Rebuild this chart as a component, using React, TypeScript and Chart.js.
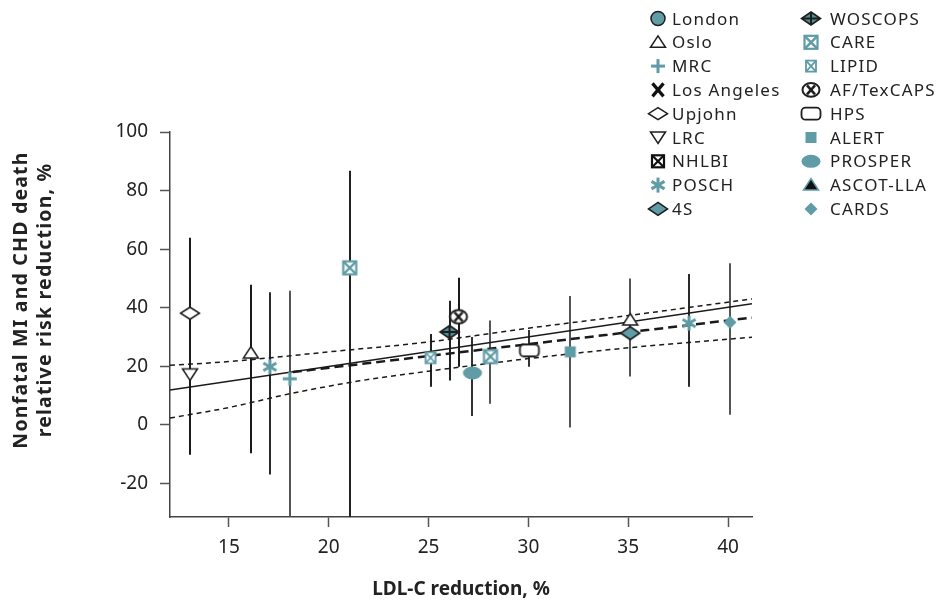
import { useEffect, useRef } from 'react';
import { Chart, registerables } from 'chart.js';

Chart.register(...registerables);

// ---------------- data ----------------
const studyNames = [
  'London', 'Oslo', 'MRC', 'Los Angeles', 'Upjohn', 'LRC', 'NHLBI', 'POSCH', '4S',
  'WOSCOPS', 'CARE', 'LIPID', 'AF/TexCAPS', 'HPS', 'ALERT', 'PROSPER', 'ASCOT-LLA', 'CARDS',
];
// LDL-C reduction, % (x)
const studyLdlReduction: number[][] = [
  [], [16.1], [18.05], [], [13.05], [13.05], [21.05], [17.05, 38.05], [35.1],
  [26.05], [28.1], [25.1], [26.5], [30.05], [32.1], [27.2], [35.1], [40.1],
];
// relative risk reduction, % (y)
const studyRiskReduction: number[][] = [
  [], [24.5], [15.7], [], [38.1], [17.2], [53.6], [19.8, 34.7], [31.3],
  [31.7], [23.3], [22.9], [36.9], [25.4], [24.9], [17.7], [35.8], [35.0],
];
// confidence interval low / high (null = no own bar)
const studyCiLow: (number | null)[][] = [
  [], [-9.7], [-40], [], [-10.2], [null], [-40], [-17, 13], [16.5],
  [15.1], [7.2], [13], [19.8], [19.8], [-0.9], [3], [null], [3.4],
];
const studyCiHigh: (number | null)[][] = [
  [], [47.8], [45.8], [], [63.9], [null], [86.8], [45.3, 51.5], [50],
  [42.4], [35.6], [31], [50.2], [32.4], [44], [30], [null], [55.2],
];

// regression line and confidence band
const fitX = [12.05, 41.2];
const fitY = [11.9, 41.3];
const trendX = [18.2, 41.2];
const trendY = [18.0, 36.6];
const bandUpperX = [12.05, 15, 20, 25, 30, 35, 41.2];
const bandUpperY = [20.3, 21.6, 24.9, 28.3, 33.0, 37.3, 43.0];
const bandLowerX = [12.05, 15, 18.2, 21.55, 25, 30, 35, 41.2];
const bandLowerY = [2.3, 5.9, 10.8, 15.0, 18.3, 22.6, 26.3, 29.9];

const xTickValues = [15, 20, 25, 30, 35, 40];
const yTickValues = [-20, 0, 20, 40, 60, 80, 100];
const xTitle = 'LDL-C reduction, %';
const yTitleLines = ['Nonfatal MI and CHD death', 'relative risk reduction, %'];

// ---------------- styles ----------------
const TEAL = '#5f9ca5';
const DARK = '#1e1e1e';
const FONT = '"Noto Sans", "DejaVu Sans", sans-serif';

const plotMarker: Record<string, string> = {
  London: 'circle', Oslo: 'triOpen', MRC: 'plus', 'Los Angeles': 'cross', Upjohn: 'diamondOpen',
  LRC: 'triDown', NHLBI: 'boxXTeal', POSCH: 'asterisk', '4S': 'diamondTeal', WOSCOPS: 'diamondCross',
  CARE: 'boxXTeal', LIPID: 'boxXSmall', 'AF/TexCAPS': 'circleX', HPS: 'roundRect', ALERT: 'square',
  PROSPER: 'ellipse', 'ASCOT-LLA': 'triOpen', CARDS: 'diamondSmall',
};
const legendMarker: Record<string, string> = {
  ...plotMarker, NHLBI: 'boxXDark', 'ASCOT-LLA': 'triFilled',
};
const barColor: Record<string, string> = {
  Oslo: '#1a1a1a', MRC: '#555', Upjohn: '#1a1a1a', NHLBI: '#222', POSCH: '#2a2a2a', '4S': '#555',
  WOSCOPS: '#222', CARE: '#555', LIPID: '#222', 'AF/TexCAPS': '#1a1a1a', HPS: '#333', ALERT: '#555',
  PROSPER: '#333', CARDS: '#555',
};

function poly(g: CanvasRenderingContext2D, pts: number[][]) {
  g.beginPath();
  g.moveTo(pts[0][0], pts[0][1]);
  for (let i = 1; i < pts.length; i++) g.lineTo(pts[i][0], pts[i][1]);
  g.closePath();
}
function seg(g: CanvasRenderingContext2D, a: number, b: number, c: number, d: number) {
  g.beginPath();
  g.moveTo(a, b);
  g.lineTo(c, d);
  g.stroke();
}

function drawMarker(g: CanvasRenderingContext2D, kind: string, cx: number, cy: number) {
  g.save();
  g.lineJoin = 'miter';
  g.lineCap = 'butt';
  switch (kind) {
    case 'circle':
      g.beginPath(); g.arc(cx, cy, 7, 0, Math.PI * 2);
      g.fillStyle = TEAL; g.fill(); g.lineWidth = 1.5; g.strokeStyle = DARK; g.stroke();
      break;
    case 'triOpen':
      poly(g, [[cx, cy - 6.5], [cx + 7.5, cy + 5], [cx - 7.5, cy + 5]]);
      g.fillStyle = '#fff'; g.fill(); g.lineWidth = 1.5; g.strokeStyle = DARK; g.stroke();
      break;
    case 'triFilled':
      poly(g, [[cx, cy - 6.5], [cx + 7.5, cy + 5], [cx - 7.5, cy + 5]]);
      g.fillStyle = '#111'; g.fill(); g.lineWidth = 1.5; g.strokeStyle = TEAL; g.stroke();
      break;
    case 'triDown':
      poly(g, [[cx, cy + 6], [cx + 7.5, cy - 5.5], [cx - 7.5, cy - 5.5]]);
      g.fillStyle = '#fff'; g.fill(); g.lineWidth = 1.5; g.strokeStyle = DARK; g.stroke();
      break;
    case 'plus':
      g.strokeStyle = TEAL; g.lineWidth = 3;
      seg(g, cx - 7, cy, cx + 7, cy); seg(g, cx, cy - 7, cx, cy + 7);
      break;
    case 'cross':
      g.strokeStyle = '#111'; g.lineWidth = 3.2;
      seg(g, cx - 5.5, cy - 6.5, cx + 5.5, cy + 6.5); seg(g, cx + 5.5, cy - 6.5, cx - 5.5, cy + 6.5);
      break;
    case 'diamondOpen':
      poly(g, [[cx, cy - 6], [cx + 9.5, cy], [cx, cy + 6], [cx - 9.5, cy]]);
      g.fillStyle = '#fff'; g.fill(); g.lineWidth = 1.5; g.strokeStyle = DARK; g.stroke();
      break;
    case 'boxXDark':
      g.fillStyle = '#fff'; g.fillRect(cx - 6, cy - 6, 12, 12);
      g.strokeStyle = '#111'; g.lineWidth = 2.2; g.strokeRect(cx - 6, cy - 6, 12, 12);
      seg(g, cx - 6, cy - 6, cx + 6, cy + 6); seg(g, cx + 6, cy - 6, cx - 6, cy + 6);
      break;
    case 'boxXTeal':
      g.fillStyle = '#fff'; g.fillRect(cx - 6.5, cy - 6.5, 13, 13);
      g.strokeStyle = TEAL; g.lineWidth = 2.2; g.strokeRect(cx - 6.5, cy - 6.5, 13, 13);
      g.lineWidth = 2.4;
      seg(g, cx - 6, cy - 6, cx + 6, cy + 6); seg(g, cx + 6, cy - 6, cx - 6, cy + 6);
      break;
    case 'boxXSmall':
      g.fillStyle = '#fff'; g.fillRect(cx - 5, cy - 5.5, 10, 11);
      g.strokeStyle = TEAL; g.lineWidth = 1.8; g.strokeRect(cx - 5, cy - 5.5, 10, 11);
      seg(g, cx - 5, cy - 5.5, cx + 5, cy + 5.5); seg(g, cx + 5, cy - 5.5, cx - 5, cy + 5.5);
      break;
    case 'asterisk': {
      g.strokeStyle = TEAL; g.lineWidth = 3;
      const r = 7.5;
      for (const a of [90, 30, 150]) {
        const t = (a * Math.PI) / 180;
        seg(g, cx - r * Math.cos(t), cy - r * Math.sin(t), cx + r * Math.cos(t), cy + r * Math.sin(t));
      }
      break;
    }
    case 'diamondTeal':
      poly(g, [[cx, cy - 6.5], [cx + 9.5, cy], [cx, cy + 6.5], [cx - 9.5, cy]]);
      g.fillStyle = TEAL; g.fill(); g.lineWidth = 1.6; g.strokeStyle = DARK; g.stroke();
      break;
    case 'diamondCross':
      poly(g, [[cx, cy - 6.5], [cx + 9.5, cy], [cx, cy + 6.5], [cx - 9.5, cy]]);
      g.fillStyle = '#4f8d95'; g.fill(); g.lineWidth = 1.6; g.strokeStyle = DARK; g.stroke();
      g.lineWidth = 2;
      seg(g, cx - 9, cy, cx + 9, cy); seg(g, cx, cy - 6, cx, cy + 6);
      break;
    case 'circleX':
      g.beginPath(); g.ellipse(cx, cy, 8.5, 6.8, 0, 0, Math.PI * 2);
      g.fillStyle = '#fff'; g.fill(); g.lineWidth = 2; g.strokeStyle = DARK; g.stroke();
      g.lineWidth = 2.6;
      seg(g, cx - 4, cy - 4.5, cx + 4, cy + 4.5); seg(g, cx + 4, cy - 4.5, cx - 4, cy + 4.5);
      break;
    case 'roundRect':
      g.beginPath(); g.roundRect(cx - 9.5, cy - 6, 19, 12, 4);
      g.fillStyle = '#fff'; g.fill(); g.lineWidth = 1.8; g.strokeStyle = DARK; g.stroke();
      break;
    case 'square':
      g.fillStyle = TEAL; g.fillRect(cx - 5.5, cy - 5.5, 11, 11);
      break;
    case 'ellipse':
      g.beginPath(); g.ellipse(cx, cy, 9.5, 6.5, 0, 0, Math.PI * 2);
      g.fillStyle = TEAL; g.fill();
      break;
    case 'diamondSmall':
      poly(g, [[cx, cy - 6.5], [cx + 6.5, cy], [cx, cy + 6.5], [cx - 6.5, cy]]);
      g.fillStyle = TEAL; g.fill();
      break;
  }
  g.restore();
}

function markerCanvas(kind: string): HTMLCanvasElement {
  const c = document.createElement('canvas');
  c.width = 28;
  c.height = 24;
  const g = c.getContext('2d')!;
  drawMarker(g, kind, 14, 12);
  return c;
}

const errorBarPlugin = {
  id: 'errorBars',
  beforeDatasetsDraw(chart: any) {
    const { ctx, chartArea, scales } = chart;
    const x = scales.x, y = scales.y;
    ctx.save();
    ctx.beginPath();
    ctx.rect(chartArea.left, chartArea.top, chartArea.right - chartArea.left, chartArea.bottom - chartArea.top);
    ctx.clip();
    studyNames.forEach((name, i) => {
      studyLdlReduction[i].forEach((xv, j) => {
        const lo = studyCiLow[i][j];
        const hi = studyCiHigh[i][j];
        if (lo == null || hi == null) return;
        const px = Math.round(x.getPixelForValue(xv));
        ctx.beginPath();
        ctx.moveTo(px, y.getPixelForValue(lo));
        ctx.lineTo(px, y.getPixelForValue(hi));
        ctx.strokeStyle = barColor[name] || '#333';
        ctx.lineWidth = 2;
        ctx.stroke();
      });
    });
    ctx.restore();
  },
};

const legendPlugin = {
  id: 'customLegend',
  afterDraw(chart: any) {
    const ctx: any = chart.ctx;
    ctx.save();
    ctx.font = `17px ${FONT}`;
    ctx.letterSpacing = '1.2px';
    ctx.fillStyle = '#222';
    ctx.textAlign = 'left';
    ctx.textBaseline = 'alphabetic';
    studyNames.forEach((name, i) => {
      const col = i < 9 ? 0 : 1;
      const row = i % 9;
      const cy = 18.5 + row * 23.8;
      drawMarker(ctx, legendMarker[name], col ? 811 : 658, cy);
      ctx.fillText(name, col ? 830 : 672, cy + 6);
    });
    ctx.restore();
  },
};

const yTitlePlugin = {
  id: 'yTitle',
  afterDraw(chart: any) {
    const ctx: any = chart.ctx;
    ctx.save();
    ctx.font = `bold 19.5px ${FONT}`;
    ctx.letterSpacing = '1.2px';
    ctx.fillStyle = '#222';
    ctx.textAlign = 'center';
    ctx.textBaseline = 'middle';
    const xs = [21, 45];
    yTitleLines.forEach((t: string, i: number) => {
      ctx.save();
      ctx.translate(xs[i], 300);
      ctx.rotate(-Math.PI / 2);
      ctx.fillText(t, 0, 0);
      ctx.restore();
    });
    ctx.restore();
  },
};

function pairs(xs: number[], ys: number[]) {
  return xs.map((v, i) => ({ x: v, y: ys[i] }));
}

export default function App() {
  const ref = useRef<HTMLCanvasElement>(null);

  useEffect(() => {
    const canvas = ref.current!;
    const scatterSets = studyNames.map((name, i) => ({
      type: 'scatter' as const,
      label: name,
      data: pairs(studyLdlReduction[i], studyRiskReduction[i]),
      pointStyle: markerCanvas(plotMarker[name]),
      pointRadius: 6,
      order: 0,
    }));
    const lineBase = {
      type: 'line' as const,
      pointRadius: 0,
      fill: false,
      borderColor: '#1a1a1a',
      cubicInterpolationMode: 'monotone' as const,
      order: 5,
    };
    const chart = new Chart(canvas, {
      type: 'scatter',
      data: {
        datasets: [
          { ...lineBase, label: 'upper', data: pairs(bandUpperX, bandUpperY), borderWidth: 1.5, borderDash: [5, 4] },
          { ...lineBase, label: 'lower', data: pairs(bandLowerX, bandLowerY), borderWidth: 1.5, borderDash: [5, 4] },
          { ...lineBase, label: 'fit', data: pairs(fitX, fitY), borderWidth: 1.5 },
          { ...lineBase, label: 'trend', data: pairs(trendX, trendY), borderWidth: 2.5, borderDash: [9, 5] },
          ...scatterSets,
        ] as any,
      },
      options: {
        animation: false,
        responsive: false,
        layout: { padding: { top: 132, right: 192, left: 0, bottom: 0 } },
        plugins: { legend: { display: false }, tooltip: { enabled: false }, title: { display: false } },
        scales: {
          x: {
            type: 'linear',
            min: 12.05,
            max: 41.2,
            afterFit: (s: any) => { s.height = 88; },
            afterBuildTicks: (s: any) => { s.ticks = xTickValues.map((v) => ({ value: v })); },
            ticks: { padding: 9, color: '#222', font: { family: FONT, size: 19 } },
            grid: { drawOnChartArea: false, drawTicks: true, tickLength: 10, tickColor: '#555', tickWidth: 1.5 },
            border: { display: true, color: '#444', width: 1.5 },
            title: {
              display: true, text: xTitle, color: '#222',
              font: { family: FONT, size: 19, weight: 'bold' }, padding: { top: 0, bottom: 4 },
            },
          },
          y: {
            type: 'linear',
            min: -31.5,
            max: 100,
            afterFit: (s: any) => { s.width = 170; },
            afterBuildTicks: (s: any) => { s.ticks = yTickValues.map((v) => ({ value: v })); },
            ticks: { padding: 12, color: '#222', font: { family: FONT, size: 19 } },
            grid: { drawOnChartArea: false, drawTicks: true, tickLength: 10, tickColor: '#555', tickWidth: 1.5 },
            border: { display: true, color: '#444', width: 1.5 },
          },
        },
      } as any,
      plugins: [errorBarPlugin, legendPlugin, yTitlePlugin],
    });
    return () => chart.destroy();
  }, []);

  return (
    <div style={{ position: 'fixed', left: 0, top: 0, width: 944, height: 605, background: '#fff' }}>
      <canvas ref={ref} width={944} height={605} />
    </div>
  );
}
